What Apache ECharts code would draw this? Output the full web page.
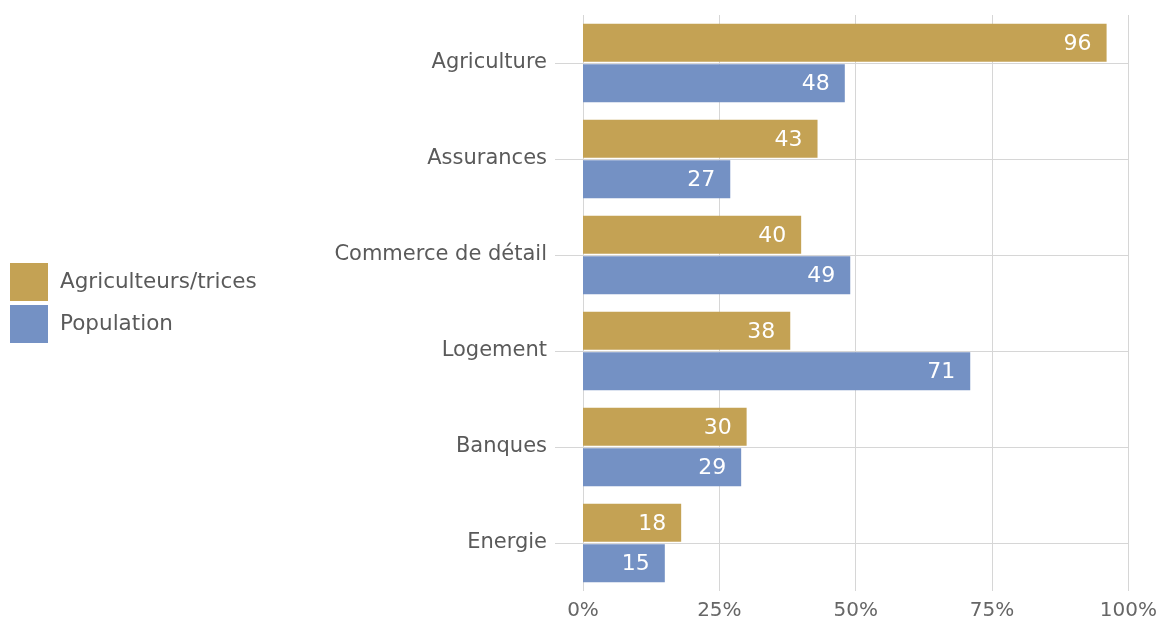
<!DOCTYPE html>
<html>
<head>
<meta charset="utf-8">
<script src="https://cdn.jsdelivr.net/npm/echarts@6/dist/echarts.min.js"></script>
<style>
html,body{margin:0;padding:0;background:#fff;}
#chart{width:1160px;height:621px;}
</style>
</head>
<body>
<div id="chart"></div>
<script>
const categories = ['Agriculture', 'Assurances', 'Commerce de détail', 'Logement', 'Banques', 'Energie'];
const seriesNames = ['Agriculteurs/trices', 'Population'];
const farmers = [96, 43, 40, 38, 30, 18];
const population = [48, 27, 49, 71, 29, 15];
const xTicks = [0, 25, 50, 75, 100];

const FONT = '"DejaVu Sans", sans-serif';
const chart = echarts.init(document.getElementById('chart'));

const labelCfg = {
  show: true,
  position: 'insideRight',
  distance: 15,
  color: '#ffffff',
  fontSize: 22,
  fontFamily: FONT,
  offset: [0, 1]
};

chart.setOption({
  animation: false,
  color: ['#C4A254', '#7491C4'],
  legend: {
    orient: 'vertical',
    left: 5,
    top: 258,
    itemWidth: 38,
    itemHeight: 38,
    itemGap: 4,
    icon: 'rect',
    textStyle: { color: '#5a5a5a', fontSize: 21.5, fontFamily: FONT, padding: [2, 0, 0, 7] },
    data: seriesNames
  },
  grid: { left: 583, right: 31, top: 15, bottom: 30, containLabel: false },
  xAxis: {
    type: 'value',
    min: xTicks[0],
    max: xTicks[xTicks.length - 1],
    interval: 25,
    axisLine: { show: false },
    axisTick: { show: false },
    axisLabel: { formatter: '{value}%', color: '#666', fontSize: 20, fontFamily: FONT, margin: 10 },
    splitLine: { show: true, lineStyle: { color: '#d6d6d6', width: 1 } }
  },
  yAxis: {
    type: 'category',
    inverse: true,
    data: categories,
    axisLine: { show: false },
    axisTick: { show: true, alignWithLabel: true, length: 28, lineStyle: { color: '#d6d6d6' } },
    axisLabel: { color: '#5a5a5a', fontSize: 21, fontFamily: FONT, margin: 36, padding: [7, 0, 0, 0] },
    splitLine: { show: false }
  },
  series: [
    {
      name: seriesNames[0],
      type: 'bar',
      data: farmers,
      barWidth: 38,
      barGap: '6%',
      label: labelCfg,
      z: 2
    },
    {
      name: seriesNames[1],
      type: 'bar',
      data: population,
      barWidth: 38,
      barGap: '6%',
      label: labelCfg,
      z: 2
    },
    {
      name: 'rules',
      type: 'line',
      data: [],
      silent: true,
      markLine: {
        silent: true,
        symbol: 'none',
        label: { show: false },
        lineStyle: { color: '#d6d6d6', type: 'solid', width: 1 },
        data: categories.map(c => ({ yAxis: c }))
      }
    }
  ]
});
</script>
</body>
</html>
